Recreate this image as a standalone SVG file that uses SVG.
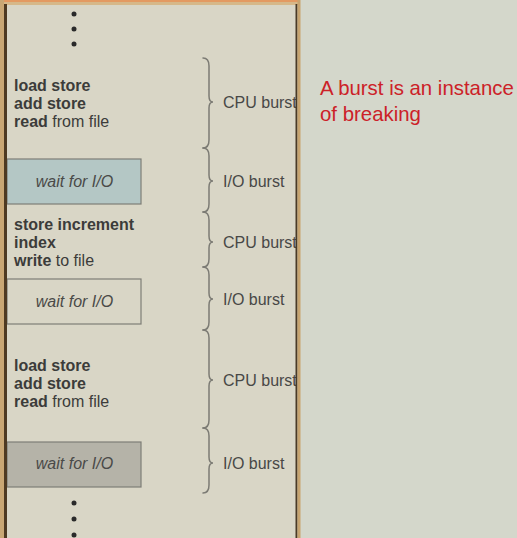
<svg xmlns="http://www.w3.org/2000/svg" width="517" height="538" viewBox="0 0 517 538">
<defs>
<style>
.code{font-family:"Liberation Sans",Arial,sans-serif;font-size:16px;fill:#3c3c3a}
.b{font-weight:bold}
.wait{font-family:"Liberation Sans",Arial,sans-serif;font-size:16px;font-style:italic;fill:#4a4a48;text-anchor:middle}
.lbl{font-family:"Liberation Sans",Arial,sans-serif;font-size:16px;fill:#484846}
.note{font-family:"Liberation Sans",Arial,sans-serif;font-size:20.4px;fill:#cc2128}
.brace{fill:none;stroke:#7c7b74;stroke-width:1.5;stroke-linecap:round}
.box{stroke:#7e7d77;stroke-width:1.2}
.dot{fill:#2a2a2a}
</style>
</defs>
<rect x="0" y="0" width="517" height="538" fill="#d4d7cb"/>
<rect x="0" y="0" width="300" height="538" fill="#d9d6c6"/>

<g id="dots-top">
<circle class="dot" cx="74" cy="14" r="2.5"/>
<circle class="dot" cx="74" cy="29" r="2.5"/>
<circle class="dot" cx="74" cy="44" r="2.5"/>
</g>

<g id="cpu1">
<text class="code" x="14" y="91"><tspan class="b">load store</tspan></text>
<text class="code" x="14" y="109"><tspan class="b">add store</tspan></text>
<text class="code" x="14" y="127"><tspan class="b">read</tspan> from file</text>
</g>

<g id="io1">
<rect class="box" x="7" y="159" width="134" height="45" fill="#b4c7c5"/>
<text class="wait" x="74.5" y="187">wait for I/O</text>
</g>

<g id="cpu2">
<text class="code" x="14" y="230"><tspan class="b">store increment</tspan></text>
<text class="code" x="14" y="248"><tspan class="b">index</tspan></text>
<text class="code" x="14" y="266"><tspan class="b">write</tspan> to file</text>
</g>

<g id="io2">
<rect class="box" x="7" y="279" width="134" height="45" fill="#d9d6c6"/>
<text class="wait" x="74.5" y="307">wait for I/O</text>
</g>

<g id="cpu3">
<text class="code" x="14" y="371"><tspan class="b">load store</tspan></text>
<text class="code" x="14" y="389"><tspan class="b">add store</tspan></text>
<text class="code" x="14" y="407"><tspan class="b">read</tspan> from file</text>
</g>

<g id="io3">
<rect class="box" x="7" y="442" width="134" height="45" fill="#b5b3a8"/>
<text class="wait" x="74.5" y="469">wait for I/O</text>
</g>

<g id="dots-bottom">
<circle class="dot" cx="74" cy="503" r="2.5"/>
<circle class="dot" cx="74" cy="519" r="2.5"/>
<circle class="dot" cx="74" cy="535" r="2.5"/>
</g>

<g id="connectors">
<path class="brace" d="M203,58 Q209,58 209,66 L209,96 Q209,102 213,102 Q209,102 209,108 L209,140 Q209,148 203,148"/>
<path class="brace" d="M203,148 Q209,148 209,156 L209,175 Q209,181 213,181 Q209,181 209,187 L209,204 Q209,212 203,212"/>
<path class="brace" d="M203,212 Q209,212 209,220 L209,236 Q209,242 213,242 Q209,242 209,248 L209,259 Q209,267 203,267"/>
<path class="brace" d="M203,267 Q209,267 209,275 L209,293 Q209,299 213,299 Q209,299 209,305 L209,322 Q209,330 203,330"/>
<path class="brace" d="M203,330 Q209,330 209,338 L209,374 Q209,380 213,380 Q209,380 209,386 L209,420 Q209,428 203,428"/>
<path class="brace" d="M203,428 Q209,428 209,436 L209,457 Q209,463 213,463 Q209,463 209,469 L209,485 Q209,493 203,493"/>
</g>

<g id="labels">
<text class="lbl" x="223" y="108">CPU burst</text>
<text class="lbl" x="223" y="187">I/O burst</text>
<text class="lbl" x="223" y="248">CPU burst</text>
<text class="lbl" x="223" y="305">I/O burst</text>
<text class="lbl" x="223" y="386">CPU burst</text>
<text class="lbl" x="223" y="469">I/O burst</text>
</g>

<g id="frame">
<rect x="0" y="0" width="300" height="2" fill="#e39a62"/>
<rect x="0" y="2" width="300" height="3" fill="#d6b889"/>
<rect x="0" y="0" width="4" height="538" fill="#c9a774"/>
<rect x="4" y="4" width="3" height="534" fill="#4e3a22"/>
<rect x="295.5" y="4" width="2" height="534" fill="#4a3a26"/>
<rect x="297.5" y="0" width="3" height="538" fill="#c7a46f"/>
</g>

<g id="note">
<text class="note" x="320" y="95">A burst is an instance</text>
<text class="note" x="320" y="121">of breaking</text>
</g>
</svg>
